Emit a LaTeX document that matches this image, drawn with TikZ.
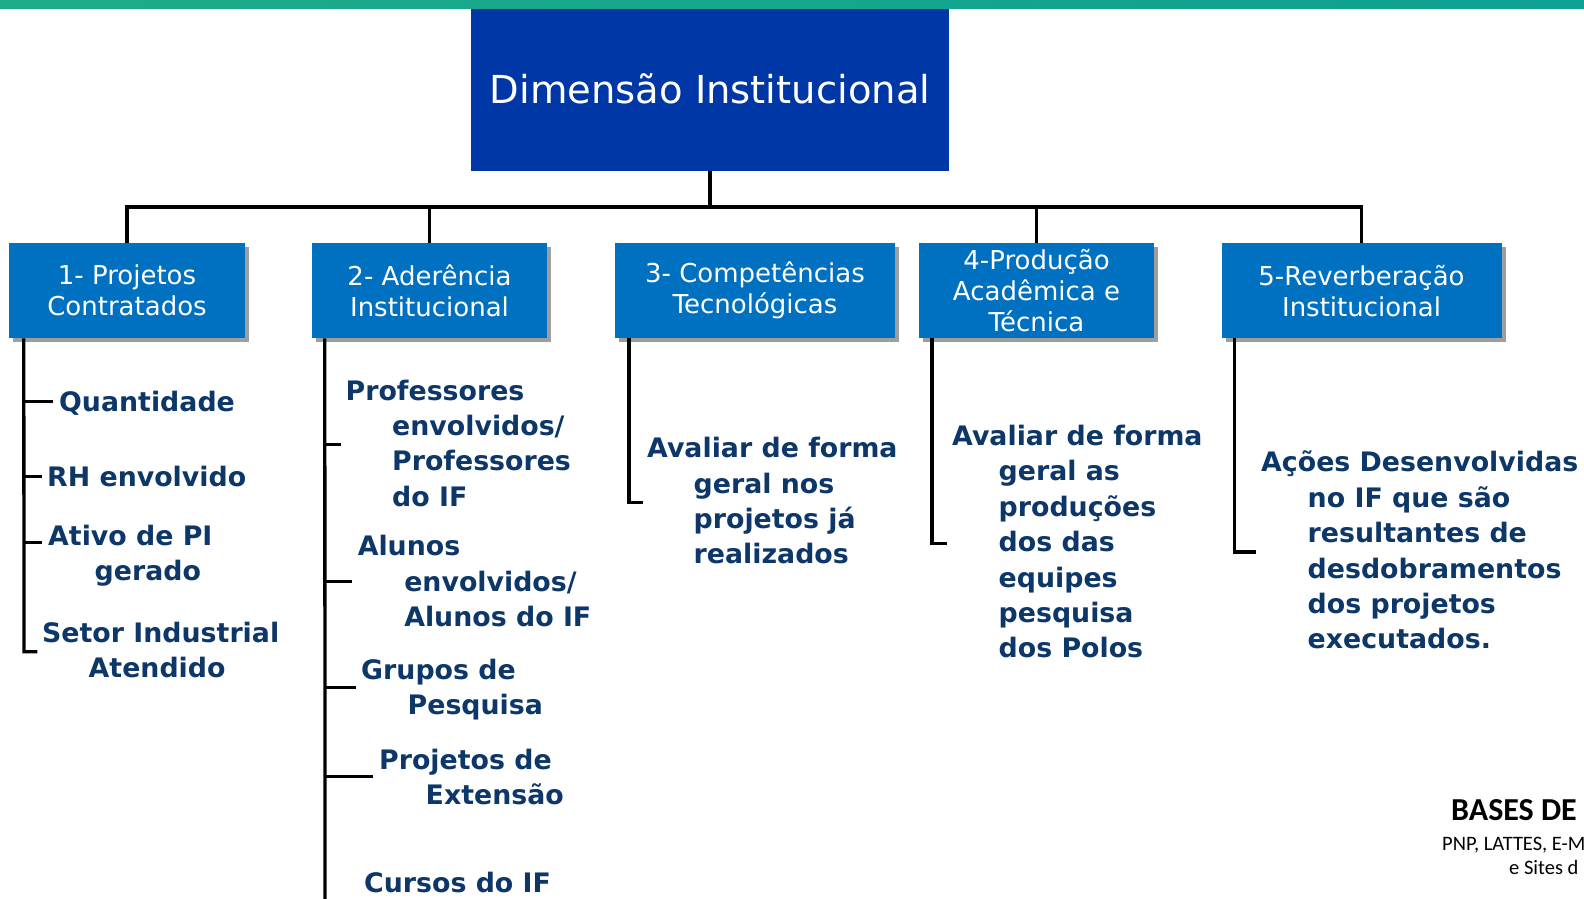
\documentclass[tikz,border=0pt]{standalone}
\usepackage{fontspec}
\setmainfont{DejaVu Sans}
\newfontfamily\calib{Carlito}
\usetikzlibrary{shadows}
\definecolor{hdrblue}{RGB}{0,55,166}
\definecolor{boxblue}{RGB}{0,112,192}
\definecolor{navy}{RGB}{13,55,104}
\definecolor{barL}{RGB}{30,172,136}
\definecolor{barR}{RGB}{14,160,146}
\newcommand\hangind{46.5pt}
\newcommand\Fl[1]{\hbox{#1}}
\newcommand\Nl[1]{\hbox{\hspace*{\hangind}#1}}
\newcommand\Blk[1]{\vtop{\baselineskip=35.4pt #1}}
\begin{document}
\begin{tikzpicture}[x=1pt,y=-1pt,
  hdr/.style={fill=hdrblue, text=white, minimum width=478pt, minimum height=162pt, inner sep=0pt,
    font=\fontsize{38.5pt}{46pt}\selectfont},
  lvl/.style={fill=boxblue, text=white, minimum height=95pt, inner sep=0pt, align=center,
    font=\fontsize{26pt}{31pt}\selectfont,
    drop shadow={shadow xshift=4pt, shadow yshift=-4pt, fill=black!38, opacity=1}},
  item/.style={anchor=base west, inner sep=0pt, text=navy,
    font=\fontsize{26.8pt}{35.4pt}\selectfont\bfseries},
  conn/.style={line width=3.5pt, draw=black},
  brk/.style={line width=3.3pt, draw=black, line join=miter},
  note/.style={anchor=base west, inner sep=0pt, text=black},
]
\useasboundingbox (0,0) rectangle (1584,898);
\clip (0,0) rectangle (1584,898);

% top bar
\shade[left color=barL, right color=barR] (0,0) rectangle (1584,8);

% header
\node[hdr] (h) at (710,90) {\raisebox{3pt}{Dimensão Institucional}};

% level 2 boxes
\node[lvl, minimum width=236pt] (b1) at (127,290.7) {1- Projetos\\Contratados};
\node[lvl, minimum width=235pt] (b2) at (429.5,290.7) {2- Aderência\\Institucional};
\node[lvl, minimum width=280pt] (b3) at (755,290.7) {3- Competências\\Tecnológicas};
\node[lvl, minimum width=235pt] (b4) at (1036.5,290.7) {4-Produção\\Acadêmica e\\Técnica};
\node[lvl, minimum width=280pt] (b5) at (1361.5,290.7) {5-Reverberação\\Institucional};

% bus
\coordinate (bus) at (710,207);
\draw[conn] (h.south) -- (bus);
\draw[conn, line join=miter] (b1.north) -- (b1.north |- bus) -| (b5.north);
\draw[conn] (b2.north) -- (b2.north |- bus);
\draw[conn] (b4.north) -- (b4.north |- bus);

% column 1 items
\node[item] (q1) at (59,411) {Quantidade};
\node[item] (q2) at (47,486) {RH envolvido};
\node[item] (q3) at (48,545.5) {\Blk{\Fl{Ativo de PI}\Nl{gerado}}};
\node[item] (q4) at (42,642.5) {\Blk{\Fl{Setor Industrial}\Nl{Atendido}}};

% column 2 items
\node[item] (p1) at (345.5,400) {\Blk{\Fl{Professores}\Nl{envolvidos/}\Nl{Professores}\Nl{do IF}}};
\node[item] (p2) at (357.6,555.6) {\Blk{\Fl{Alunos}\Nl{envolvidos/}\Nl{Alunos do IF}}};
\node[item] (p3) at (361,679) {\Blk{\Fl{Grupos de}\Nl{Pesquisa}}};
\node[item] (p4) at (379,769) {\Blk{\Fl{Projetos de}\Nl{Extensão}}};
\node[item] (p5) at (364,892) {Cursos do IF};

% column 3-5 items
\node[item] (a1) at (647,457.6) {\Blk{\Fl{Avaliar de forma}\Nl{geral nos}\Nl{projetos já}\Nl{realizados}}};
\node[item] (a2) at (952,445.5) {\Blk{\Fl{Avaliar de forma}\Nl{geral as}\Nl{produções}\Nl{dos das}\Nl{equipes}\Nl{pesquisa}\Nl{dos Polos}}};
\node[item] (a3) at (1261,471.8) {\Blk{\Fl{Ações Desenvolvidas}\Nl{no IF que são}\Nl{resultantes de}\Nl{desdobramentos}\Nl{dos projetos}\Nl{executados.}}};

% brackets column 1
\coordinate (v1t) at ([xshift=15pt]b1.south west);
\coordinate (v1b) at (24,651.7);
\draw[brk] (v1t) -- (v1b) -- ++(13.3,0);
\coordinate (t11) at (24,401.7);
\coordinate (t12) at (24,476.7);
\coordinate (t13) at (24,542.7);
\draw[brk] (t11) -- ++(29,0);
\draw[brk] (t12) -- ++(17.7,0);
\draw[brk] (t13) -- ++(17.7,0);

% brackets column 2
\coordinate (v2t) at ([xshift=13pt]b2.south west);
\coordinate (v2b) at (325,900);
\draw[brk] (v2t) -- (v2b);
\coordinate (t21) at (325,444.3);
\coordinate (t22) at (325,581.7);
\coordinate (t23) at (325,687.3);
\coordinate (t24) at (325,776.7);
\draw[brk] (t21) -- ++(15.7,0);
\draw[brk] (t22) -- ++(27.3,0);
\draw[brk] (t23) -- ++(31,0);
\draw[brk] (t24) -- ++(48.3,0);

% brackets column 3
\coordinate (v3t) at ([xshift=14.3pt]b3.south west);
\draw[brk] (v3t) -- (v3t |- 0,502.3) -- ++(13.4,0);

% brackets column 4
\coordinate (v4t) at ([xshift=13.3pt]b4.south west);
\draw[brk] (v4t) -- (v4t |- 0,543.3) -- ++(15,0);

% brackets column 5
\coordinate (v5t) at ([xshift=13.5pt]b5.south west);
\draw[brk] (v5t) -- (v5t |- 0,552) -- ++(21,0);

% bottom right note
\node[note, font=\calib\bfseries\fontsize{32pt}{38pt}\selectfont] (n1) at (1451,820) {BASES DE};
\node[note, font=\calib\fontsize{20.5pt}{25pt}\selectfont] (n2) at (1442,850) {PNP, LATTES, E-M};
\node[note, font=\calib\fontsize{20.5pt}{25pt}\selectfont] (n3) at (1509,874) {e Sites d};
\end{tikzpicture}
\end{document}
